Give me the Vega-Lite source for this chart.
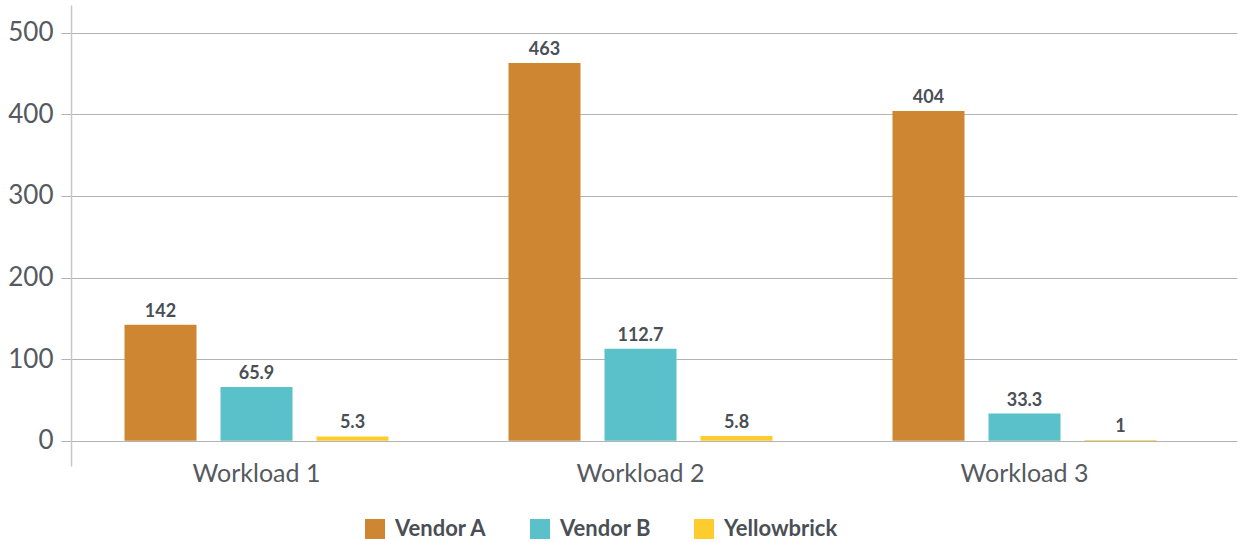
{
  "$schema": "https://vega.github.io/schema/vega-lite/v6.json",
  "width": 1166,
  "height": 461,
  "autosize": {"type": "none"},
  "padding": {"left": 71, "top": 5, "right": 4, "bottom": 76},
  "background": "white",
  "config": {
    "view": {"stroke": null},
    "font": "Lato"
  },
  "data": {
    "values": [
      {"workload": "Workload 1", "vendor": "Vendor A", "value": 142},
      {"workload": "Workload 1", "vendor": "Vendor B", "value": 65.9},
      {"workload": "Workload 1", "vendor": "Yellowbrick", "value": 5.3},
      {"workload": "Workload 2", "vendor": "Vendor A", "value": 463},
      {"workload": "Workload 2", "vendor": "Vendor B", "value": 112.7},
      {"workload": "Workload 2", "vendor": "Yellowbrick", "value": 5.8},
      {"workload": "Workload 3", "vendor": "Vendor A", "value": 404},
      {"workload": "Workload 3", "vendor": "Vendor B", "value": 33.3},
      {"workload": "Workload 3", "vendor": "Yellowbrick", "value": 1}
    ]
  },
  "encoding": {
    "x": {
      "field": "workload",
      "type": "nominal",
      "scale": {"range": [-6.5, 1166], "paddingInner": 0, "paddingOuter": 0.0267, "align": 0},
      "axis": {
        "title": null,
        "labelAngle": 0,
        "domain": false,
        "ticks": false,
        "labelFontSize": 25,
        "labelColor": "#555a60",
        "labelFontWeight": 400,
        "labelPadding": -5
      }
    },
    "xOffset": {
      "field": "vendor",
      "type": "nominal",
      "scale": {"paddingInner": 0.25, "paddingOuter": 0.625}
    },
    "y": {
      "field": "value",
      "type": "quantitative",
      "scale": {"domain": [-31, 534], "nice": false, "zero": false},
      "axis": {
        "title": null,
        "values": [0, 100, 200, 300, 400, 500],
        "grid": true,
        "gridColor": "#b3b3b3",
        "gridWidth": 1,
        "domainColor": "#c8c8c8",
        "domainWidth": 1.5,
        "tickColor": "#b3b3b3",
        "tickSize": 10,
        "labelFontSize": 26,
        "labelColor": "#555a60",
        "labelFontWeight": 400,
        "labelPadding": 8
      }
    }
  },
  "layer": [
    {
      "mark": {"type": "bar"},
      "encoding": {
        "y2": {"datum": 0},
        "color": {
          "field": "vendor",
          "type": "nominal",
          "scale": {
            "domain": ["Vendor A", "Vendor B", "Yellowbrick"],
            "range": ["#CF8632", "#5AC0CA", "#FFCC2E"]
          },
          "legend": {
            "title": null,
            "orient": "none",
            "direction": "horizontal",
            "legendX": 293,
            "legendY": 513,
            "symbolType": "square",
            "symbolSize": 400,
            "symbolStrokeWidth": 0,
            "symbolOpacity": 1,
            "labelFontSize": 22,
            "labelFontWeight": "bold",
            "labelColor": "#4a4f55",
            "labelOffset": 9,
            "columnPadding": 42
          }
        }
      }
    },
    {
      "mark": {"type": "text", "baseline": "bottom", "dy": -4, "fontSize": 18, "fontWeight": "bold", "color": "#4a4f55"},
      "encoding": {
        "text": {"field": "value", "type": "quantitative"}
      }
    }
  ]
}
